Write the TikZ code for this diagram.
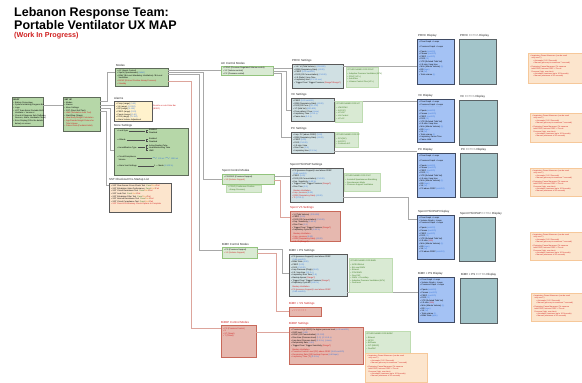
\documentclass[tikz,border=0pt]{standalone}
\usepackage{fontspec}
\setmainfont{Liberation Sans}
\usetikzlibrary{calc}
\definecolor{gfill}{HTML}{B6D7A8}
\definecolor{gdark}{HTML}{5F6B5A}
\definecolor{lgfill}{HTML}{D9EAD3}
\definecolor{lgline}{HTML}{93C47D}
\definecolor{sfill}{HTML}{D0E0E3}
\definecolor{sline}{HTML}{595959}
\definecolor{rfill}{HTML}{E6B8AF}
\definecolor{rline}{HTML}{C8695A}
\definecolor{bfill}{HTML}{A4C2F4}
\definecolor{bline}{HTML}{3F4A63}
\definecolor{tfill}{HTML}{A2C4C9}
\definecolor{tline}{HTML}{5B6366}
\definecolor{pfill}{HTML}{FCE5CD}
\definecolor{pline}{HTML}{F6C89A}
\definecolor{yfill}{HTML}{FFF2CC}
\definecolor{txtblue}{HTML}{3C78D8}
\definecolor{txtred}{HTML}{D02020}
\definecolor{txtgreen}{HTML}{38761D}
\definecolor{txtorange}{HTML}{E69138}
\definecolor{lnc}{HTML}{A8A8A8}
\definecolor{rlnc}{HTML}{DDA59C}
\newcommand{\xbu}{\textbullet\hspace{0.8pt}}
\newcommand{\xblue}[1]{{\color{txtblue}#1}}
\newcommand{\xred}[1]{{\color{txtred}#1}}
\newcommand{\xgr}[1]{{\color{txtgreen}#1}}
\newcommand{\xind}{\hspace*{1.4pt}}
\newcommand{\xpf}{{\color{txtgreen}Pass}/{\color{txtorange}Alert}/{\color{txtred}Fail}}
\begin{document}
\begin{tikzpicture}[x=1pt,y=-1pt,
  bx/.style={draw, anchor=north west, inner sep=0pt, outer sep=0pt},
  greenbox/.style={bx, fill=gfill, draw=gdark, line width=0.7pt},
  lgbox/.style={bx, fill=lgfill, draw=lgline, line width=0.6pt},
  setbox/.style={bx, fill=sfill, draw=sline, line width=0.8pt},
  redbox/.style={bx, fill=rfill, draw=rline, line width=0.7pt},
  disp/.style={bx, fill=bfill, draw=bline, line width=0.7pt},
  extra/.style={bx, fill=tfill, draw=tline, line width=0.7pt},
  pnote/.style={bx, fill=pfill, draw=pline, line width=0.4pt},
  gnote/.style={bx, fill=lgfill, draw=lgline!60, line width=0.3pt},
  ybox/.style={bx, fill=yfill, draw=sline, line width=0.7pt},
  pbox/.style={bx, fill=pfill, draw=sline, line width=0.7pt},
  tx/.style={anchor=north west, inner sep=0pt, align=left, font=\fontsize{2.05}{2.6}\selectfont},
  ntx/.style={anchor=north west, inner sep=0pt, align=left, font=\fontsize{1.9}{2.35}\selectfont},
  lbl/.style={anchor=south west, inner sep=0pt, font=\fontsize{2.9}{3.4}\selectfont, text=black!85},
  rlbl/.style={lbl, text=txtred},
  ln/.style={draw=lnc, line width=0.6pt},
  rln/.style={draw=rlnc, line width=0.8pt},
  mln/.style={draw=black!70, line width=0.25pt}]
\useasboundingbox (0,0) rectangle (582,383);
\fill[white] (0,0) rectangle (582,383);
\clip (0,0) rectangle (582,383);

% ---------- title
\node[anchor=base west, inner sep=0pt, font=\fontsize{12.5}{14}\selectfont\bfseries] (t1) at (14,16.3) {Lebanon Response Team:};
\node[anchor=base west, inner sep=0pt, font=\fontsize{12.5}{14}\selectfont\bfseries] (t2) at (14,29.3) {Portable Ventilator UX MAP};
\node[anchor=base west, inner sep=0pt, font=\fontsize{7.2}{8}\selectfont\bfseries, text=txtred] (t3) at (14,37.8) {(Work In Progress)};

% ---------- boxes
\node[greenbox, minimum width=31pt, minimum height=29pt] (boot) at (12,97) {};
\node[greenbox, minimum width=37pt, minimum height=34pt] (setup) at (63,97) {};
\node[greenbox, minimum width=53pt, minimum height=18pt] (modes) at (115,68) {};
\node[ybox, minimum width=38pt, minimum height=20pt] (alarms) at (114,101) {};
\node[greenbox, minimum width=74pt, minimum height=47pt] (more) at (114,128) {};
\node[pbox, minimum width=62pt, minimum height=29pt] (sst) at (109,183) {};

\node[lgbox, minimum width=52pt, minimum height=9pt] (ac) at (221,66) {};
\node[lgbox, minimum width=52pt, minimum height=10pt] (spontc) at (222,174) {};
\node[lgbox, minimum width=35pt, minimum height=11pt] (bimvc) at (222,247) {};
\node[redbox, minimum width=35pt, minimum height=32pt] (bipapc) at (221,325) {};

\node[setbox, minimum width=51pt, minimum height=24pt] (prvc) at (292,64) {};
\node[setbox, minimum width=43pt, minimum height=23pt] (vc) at (291,98) {};
\node[setbox, minimum width=43pt, minimum height=21pt] (pc) at (291,132) {};
\node[setbox, minimum width=53pt, minimum height=34pt] (psset) at (290,168) {};
\node[redbox, minimum width=50pt, minimum height=30pt] (vsset) at (290,211) {};
\node[setbox, minimum width=58pt, minimum height=42pt] (bimvps) at (289,254) {};
\node[redbox, minimum width=32pt, minimum height=9pt] (bimvvs) at (289,307) {};
\node[redbox, minimum width=74pt, minimum height=37pt] (bipaps) at (289,327) {};

\node[disp, minimum width=37pt, minimum height=45pt] (prvcd) at (417,39) {};
\node[extra, minimum width=37pt, minimum height=45pt] (prvce) at (459,39) {};
\node[disp, minimum width=37pt, minimum height=43pt] (vcd) at (417,99) {};
\node[extra, minimum width=38pt, minimum height=45pt] (vce) at (459,100) {};
\node[disp, minimum width=38pt, minimum height=44pt] (pcd) at (417,153) {};
\node[extra, minimum width=37pt, minimum height=44pt] (pce) at (460,153) {};
\node[disp, minimum width=37pt, minimum height=44pt] (psd) at (417,215) {};
\node[extra, minimum width=36pt, minimum height=44pt] (pse) at (459,217) {};
\node[disp, minimum width=36pt, minimum height=45pt] (bimvd) at (418,277) {};
\node[extra, minimum width=37pt, minimum height=45pt] (bimve) at (460,278) {};

% ---------- connectors
\draw[ln] (boot.east|-0,105) -- (setup.west|-0,105);
\draw[ln] (setup.east|-0,101) -- (107,101) -- (107,72) -- (modes.west|-0,72);
\draw[ln] (setup.east|-0,105) -- (alarms.west|-0,105);
\draw[ln] (setup.east|-0,108) -- (110,108) -- (110,150) -- (more.west|-0,150);
\draw[ln] (setup.east|-0,111) -- (106,111) -- (106,185) -- (sst.west|-0,185);

\draw[ln] (modes.east|-0,70.5) -- (ac.west|-0,70.5);
\draw[ln] (modes.east|-0,72.5) -- (203,72.5) -- (203,179) -- (spontc.west|-0,179);
\draw[ln] (modes.east|-0,74.5) -- (199,74.5) -- (199,250) -- (bimvc.west|-0,250);
\draw[rln] (modes.east|-0,81) -- (191,81) -- (191,328) -- (bipapc.west|-0,328);

\draw[ln] (ac.east|-0,68.5) -- (prvc.west|-0,68.5);
\draw[ln] (ac.east|-0,71) -- (286,71) -- (286,110) -- (vc.west|-0,110);
\draw[ln] (ac.east|-0,73) -- (281,73) -- (281,137) -- (pc.west|-0,137);

\draw[ln] (spontc.east|-0,176.5) -- (psset.west|-0,176.5);
\draw[rln] (spontc.east|-0,180) -- (280,180) -- (280,217) -- (vsset.west|-0,217);
\draw[ln] (bimvc.east|-0,249.5) -- (282,249.5) -- (282,273) -- (bimvps.west|-0,273);
\draw[rln] (bimvc.east|-0,253.5) -- (276,253.5) -- (276,311) -- (bimvvs.west|-0,311);
\draw[rln] (bipapc.east|-0,332) -- (bipaps.west|-0,332);

\draw[ln] (prvc.east|-0,66) -- (prvcd.west|-0,66);
\draw[ln] (vc.east|-0,101) -- (vcd.west|-0,101);
\draw[ln] (pc.east|-0,151.5) -- (pcd.west|-0,151.5);
\draw[ln] (psset.east|-0,197) -- (408,197) -- (408,219) -- (psd.west|-0,219);
\draw[ln] (bimvps.east|-0,292) -- (bimvd.west|-0,292);

% ---------- notes
\node[gnote, minimum width=32pt, minimum height=20pt] (prvcn) at (346,67) {};
\node[gnote, minimum width=27pt, minimum height=21pt] (vcn) at (335,101) {};
\node[gnote, minimum width=23pt, minimum height=15pt] (pcn) at (335,132) {};
\node[gnote, minimum width=35pt, minimum height=7pt] (spontn) at (226,185) {};
\node[gnote, minimum width=36pt, minimum height=18pt] (psn) at (344,173) {};
\node[gnote, minimum width=43pt, minimum height=34pt] (bimvn) at (349,258) {};
\node[gnote, minimum width=45pt, minimum height=22pt] (bipapn) at (365,331) {};
\node[pnote, minimum width=62pt, minimum height=29pt] (bipapp) at (365,353) {};
\node[pnote, minimum width=60pt, minimum height=30pt] (prvcp) at (528,53) {};
\node[pnote, minimum width=60pt, minimum height=29pt] (vcp) at (530,113) {};
\node[pnote, minimum width=60pt, minimum height=28pt] (pcp) at (530,168) {};
\node[pnote, minimum width=60pt, minimum height=28pt] (psp) at (530,232) {};
\node[pnote, minimum width=60pt, minimum height=28pt] (bimvp) at (531,293) {};

% ---------- labels
\node[lbl] (modesl) at (116,67) {Modes};
\node[lbl] (alarmsl) at (114,100) {Alarms};
\node[lbl] (morel) at (114,127) {More Settings};
\node[lbl] (sstl) at (109,181.5) {SST Checkout Pre-Startup List};
\node[lbl] (acl) at (221,64.5) {AC Control Modes};
\node[lbl] (spontcl) at (222,172.5) {Spont Control Modes};
\node[lbl] (bimvcl) at (222,245.5) {BiMV Control Modes};
\node[rlbl] (bipapcl) at (221,323.5) {BiPAP Control Modes};
\node[lbl] (prvcl) at (292,62.5) {PRVC Settings};
\node[lbl] (vcl) at (291,96.5) {VC Settings};
\node[lbl] (pcl) at (291,130.5) {PC Settings};
\node[lbl] (pssetl) at (290,166.5) {Spont PS/CPAP Settings};
\node[rlbl] (vssetl) at (290,209.5) {Spont VS Settings};
\node[lbl] (bimvpsl) at (289,252.5) {BiMV + PS Settings};
\node[rlbl] (bimvvsl) at (289,305.5) {BiMV + VS Settings};
\node[rlbl] (bipapsl) at (289,325.5) {BiPAP Settings};
\node[lbl] (prvcdl) at (418,37.5) {PRVC Display};
\node[lbl] (prvcel) at (460,37.5) {PRVC {\color{black!45}EXTRA} Display};
\node[lbl] (vcdl) at (418,97.5) {VC Display};
\node[lbl] (vcel) at (460,98.5) {VC {\color{black!45}EXTRA} Display};
\node[lbl] (pcdl) at (418,151.5) {PC Display};
\node[lbl] (pcel) at (461,151.5) {PC {\color{black!45}EXTRA} Display};
\node[lbl] (psdl) at (418,213.5) {Spont PS/CPAP Display};
\node[lbl] (psel) at (460,215.5) {Spont PS/CPAP {\color{black!45}EXTRA} Display};
\node[lbl] (bimvdl) at (418,275.5) {BiMV + PS Display};
\node[lbl] (bimvel) at (461,276.5) {BiMV + PS {\color{black!45}EXTRA} Display};

% ---------- texts
\node[tx] (boott) at ([shift={(1.5,1.5)}]boot.north west) {\textbf{BOOT}\\[0.5pt]
\xbu Battery Percentage\\
\xbu System Initializing Progress Bar\\
\xbu Logo\\
\xbu LRT Team Beirut Portable MVH\\
\xind Ventilator + Version \#\\
\xbu Check \& Diagnose Sub (Software,\\
\xind Sensors, Alarm, Hardware Check)\\
\xbu Error Display (Fill in the details\\
\xind below) on screen};

\node[tx] (setupt) at ([shift={(1.5,1.5)}]setup.north west) {\textbf{SET UP}\\[0.5pt]
\xbu Modes\\
\xbu Alarms\\
\xbu More Settings\\
\xbu SST (Short Self Test)\\
\xred{\xbu HME (Exhalation Auto Test)}\\
\xbu Start/Stop (Stage)\\
\xred{\xbu Ideal Body Weight Calculation}\\
\xred{\xbu Age/Gender/Height Pickers for}\\
\xred{\xind Tidal Volume}\\
\xred{\xbu Patient Data (Pediatric/Adult)}};

\node[tx] (modest) at ([shift={(2,1.5)}]modes.north west) {\xbu AC (Assist Control)\\
\xbu Spont (Spontaneous) \xblue{(Adult)}\\
\xbu BiMV (Bi-Level Mandatory Ventilation) / Bi-Level\\
\xind Ventilation\\
\xred{\xbu BiPAP (Bi-level Positive Airway Pressure)}\\
\xred{\xbu Standby}};

\node[tx] (alarmst) at ([shift={(2,2)}]alarms.north west) {\xbu Pinsp (range) \xblue{(0-60)}\\
\xbu Vti (range) \xblue{(0-2000)}\\
\xbu RR (range) \xblue{(0-100)}\\
\xbu PEEP (range) \xblue{(0-20)}\\
\xbu Ppeak (range) \xblue{(0-60)}\\
\xbu FiO2 (range) \xblue{(21-100)}\\
\xbu Alarm Volume Adjustment};
\node[tx, text=txtred] (alarmsn) at (153,105) {Results on sub-State Bar\\(BSEC)};

% More settings rows
\node[tx, anchor=west] (ms1) at (117,131) {\xbu Lock Sync};
\node[tx, anchor=west] (ms2) at (117,140) {\xbu Altitude};
\node[tx, anchor=west] (ms3) at (117,147.5) {\xbu Humidification Type};
\node[tx, anchor=west] (ms4) at (117,158.5) {\xbu Circuit/Compliance\\\xind Volume};
\node[tx, anchor=west] (ms5) at (117,166) {\xbu Alarm Vent Settings};
\node[tx, anchor=west] (mo1) at (149,131) {Enabled\\Disabled};
\node[tx, anchor=west] (mo2) at (149,140) {Enabled\\Disabled};
\node[tx, anchor=west] (mo3) at (149,148) {Active/Heating Tube\\Heat/Moisturizing Tube\\HME};
\node[tx, anchor=west] (mo4) at (152,158.5) {\xblue{$\sim$ 100 ml $\sim$ 1000 ml}};
\node[tx, anchor=west] (mo5) at (154,166) {1 --- Mode \xblue{(1-100 \%)}};
\draw[mln] ([xshift=1pt]ms1.east) -- (145,131) (146,130) -- (146,132.5) (146,130) -- (148,130) (146,132.5) -- (148,132.5);
\draw[mln] ([xshift=1pt]ms2.east) -- (145,140) (146,139) -- (146,141.5) (146,139) -- (148,139) (146,141.5) -- (148,141.5);
\draw[mln] ([xshift=1pt]ms3.east) -- (145,147.5) (146,145.5) -- (146,150.5) (146,145.5) -- (148,145.5) (146,148) -- (148,148) (146,150.5) -- (148,150.5);
\draw[mln] ([xshift=1pt]ms4.east) -- (mo4.west);
\draw[mln] ([xshift=1pt]ms5.east) -- (mo5.west);

\node[tx] (sstt) at ([shift={(2,2)}]sst.north west) {\xbu SST Flow Sensor Cross Check Test \ \xpf\\
\xbu SST Exhalation Valve Performance \ \xpf\\
\xbu SST Circuit Resistance Test \ \xpf\\
\xbu SST Leak Test \ \xpf\\
\xbu SST Exhalation Filter Test \ \xpf\\
\xbu SST Internal Resistance Test \ \xpf\\
\xbu SST Circuit Compliance Test \ \xpf\\
\xred{\xbu SST Pass All Preliminary Check Options to Complete}};

\node[tx] (act) at ([shift={(2,1.2)}]ac.north west) {\xbu PRVC (Pressure Regulated Volume control)\\
\xbu VC (Volume control)\\
\xbu PC (Pressure control)};
\node[tx] (spontct) at ([shift={(2,1.8)}]spontc.north west) {\xbu PS/CPAP (Pressure Support)\\
\xred{\xbu VS (Volume Support)}};
\node[tx] (spontnt) at ([shift={(2,1.2)}]spontn.north west) {\xgr{\xbu CPAP (Continuous Positive}\\\xgr{\xind Airway Pressure)}};
\node[tx] (bimvct) at ([shift={(2,2.2)}]bimvc.north west) {\xbu PS (Pressure Support)\\
\xred{\xbu VS (Volume Support)}};
\node[tx] (bipapct) at ([shift={(2,2.5)}]bipapc.north west) {\xred{\xbu PS (Pressure Control)}\\
\xred{\xbu S}\\
\xred{\xbu ST (Spont)}\\
\xred{\xbu T (Timed)}};

\node[tx] (prvct) at ([shift={(2,2)}]prvc.north west) {\xbu Vti / Vt (Tidal Volume) \ \xblue{(200-800)}\\
\xbu RRB (Respiratory Rate) \xblue{(4-100)}\\
\xbu PEEP \xblue{(0-20 cmH2O)}\\
\xbu FiO2 (O2 Concentration) \xblue{(21-100)}\\
\xbu I:E (Ratio) / Insp Time\\
\xbu Inspiratory time \xblue{(0.3-3.0 sec)}\\
\xbu Trigger Flow / Trigger Pressure \xred{(Range?/Range?)}};
\node[tx] (prvcnt) at ([shift={(1.5,2)}]prvcn.north west) {\xgr{OTHER NAMES FOR PRVC}\\[1.5pt]
\xgr{\xbu Adaptive Pressure Ventilation (APV)}\\
\xgr{\xbu PRVC (VC+)}\\
\xgr{\xbu AutoFlow}\\
\xgr{\xbu Volume Control Plus (VC+)}};

\node[tx] (vct) at ([shift={(2,2)}]vc.north west) {\xbu PEEP \xblue{(0-20 cmH2O)}\\
\xbu RRB (Respiratory Rate) \xblue{(4-100)}\\
\xbu FiO2 (O2 Conc.) \xblue{(21-100)}\\
\xbu VT (tidal Vol) \xblue{(200-800)}\\
\xbu Flow pattern / Flow \xblue{(L/min)}\\
\xbu Inspiratory Time \xblue{(0.3-3 s)}\\
\xbu Pause time \xblue{(0-2 s)}};
\node[tx] (vcnt) at ([shift={(1.5,2)}]vcn.north west) {\xgr{OTHER NAMES FOR VC}\\[1.5pt]
\xgr{\xbu VMV/CMV}\\
\xgr{\xbu A/C(VC)}\\
\xgr{\xbu VC-A/C}\\
\xgr{\xbu Vol Control}\\
\xgr{\xbu VC-AC}};

\node[tx] (pct) at ([shift={(2,2)}]pc.north west) {\xbu Insp. PC (above PEEP) \xblue{(5-60)}\\
\xbu RRB (Respiratory Rate) \xblue{(4-100)}\\
\xbu PEEP \xblue{(0-20)}\\
\xbu FiO2 \xblue{(21-100)}\\
\xbu I:E ratio / time\\
\xbu Rise Time \xblue{(1-5)}\\
\xbu Inspiratory time \xblue{(0.3-3 s)}};
\node[tx] (pcnt) at ([shift={(1.5,2)}]pcn.north west) {\xgr{OTHER NAMES FOR PC}\\[1.5pt]
\xgr{\xbu PCV(AC)}\\
\xgr{\xbu A/C(PC)}\\
\xgr{\xbu Pressure A/C}};

\node[tx] (pssett) at ([shift={(2,2)}]psset.north west) {\xbu PS (pressure Support) Level above PEEP\\
\xind\xblue{(0-60 cmH2O)}\\
\xbu PEEP \xblue{(0-20)}\\
\xbu FiO2 (O2 Concentration) \xblue{(21-100)}\\
\xbu Exp. Sensitivity \xblue{(1-80 \%)}\\
\xbu Trigger Flow / Trigger Pressure \xred{(Range?)}\\
\xbu Rise Time \xblue{(1-5)}\\[1.2pt]
\xind\xred{Backup Ventilation}\\
\xred{\xbu Insp. pressure} \xblue{(5-60)}\\
\xred{\xbu RRB (Respiratory Rate)} \xblue{(4-100)}\\
\xred{\xbu Ti} \xblue{(0.3-3 s)}};
\node[tx] (psnt) at ([shift={(1.5,2)}]psn.north west) {\xgr{OTHER NAMES FOR PS/C}\\[1.5pt]
\xgr{\xbu Assisted Spontaneous Breathing}\\
\xgr{\xbu Spontaneous Mode}\\
\xgr{\xbu Pressure Support Ventilation}};

\node[tx] (vssett) at ([shift={(2,2.5)}]vsset.north west) {\xbu Vt (Tidal Volume) \ \xblue{(200-800)}\\
\xbu PEEP \xblue{(0-20)}\\
\xbu FiO2 (O2 Concentration) \xblue{(21-100)}\\
\xbu Exp. Sensitivity \xblue{(1-80 \%)}\\
\xbu Rise Time \xblue{(1-5)}\\
\xbu Trigger Flow / Trigger Pressure \xred{(Range?)}\\
\xbu Inspiratory Cycle off \xblue{(1-80 \%)}\\[1.2pt]
\xind\xred{Backup Ventilation}\\
\xred{\xbu Insp. pressure} \xblue{(5-60)}\\
\xred{\xbu RRB (Respiratory Rate)} \xblue{(4-100)}\\
\xred{\xbu I:E / Ti} \xred{(Range?)}};

\node[tx] (bimvpst) at ([shift={(2,2)}]bimvps.north west) {\xbu PS (pressure Support) Level above PEEP\\
\xind\xblue{(0-60 cmH2O)}\\
\xbu BiMV Rate \xblue{(4-60)}\\
\xbu PEEP \xblue{(0-20)}\\
\xbu FiO2 \xblue{(21-100)}\\
\xbu Insp Pressure (Phigh) \xblue{(5-60)}\\
\xbu I:E / Insp time \xblue{(0.3-3 s)}\\
\xbu Inspiratory Rise Time \xblue{(1-5)}\\
\xbu Backup Apnea \xred{(Range?)}\\
\xbu Trigger Flow / Trigger Pressure \xred{(Range?)}\\
\xbu Expiratory Cycle off \xblue{(1-80 \%)}\\[1.2pt]
\xind\xred{Backup Ventilation}\\
\xred{\xbu PS (pressure Support) Level above PEEP}\\
\xind\xblue{(0-60 cmH2O)}};
\node[tx] (bimvnt) at ([shift={(1.5,2)}]bimvn.north west) {\xgr{OTHER NAMES FOR BiMV}\\[1.5pt]
\xgr{\xbu APRV/BiVent}\\
\xgr{\xbu Bi-Level SIMV}\\
\xgr{\xbu BiLevel}\\
\xgr{\xbu PSV/SIMV}\\
\xgr{\xbu Duo PAP}\\
\xgr{\xbu SIMV + PressSup}\\
\xgr{\xbu Adaptive Pressure Ventilation (APV)}\\
\xgr{\xbu DuoLevel}};

\node[tx] (bimvvst) at ([shift={(3,3.2)}]bimvvs.north west) {\xred{\xbu ? ? ? ? ? ? ?}};

\node[tx] (bipapst) at ([shift={(2,2)}]bipaps.north west) {\xbu Pressure High (IPAP) the higher pressure level \xblue{(4-30 cmH2O)}\\
\xbu IPAP level \xblue{(4-30)}\\
\xbu EPAP (O2 Concentration) \xblue{(21-100)}\\
\xbu Rise time (Pressure level) \xblue{(1-5)} \ \xblue{(0.1-0.9 s)}\\
\xbu Insp time (Pressure level) \xblue{(0.3-3 s)} \ \xblue{(L/min)}\\
\xbu Respiratory Rate \xblue{(4-60)}\\
\xbu Trigger Flow / Trigger Sensitivity \xred{(Range?)}\\[1.2pt]
\xind\xred{Backup Ventilation}\\
\xred{\xbu Pressure Control Level (PC) above PEEP} \xblue{(5-60 cmH2O)}\\
\xred{\xbu Respiratory Rate (RR) backup if apnea} \xblue{(4-60 bpm)}\\
\xred{\xbu Inspiratory Time (Ti)} \xblue{(0.3-3 s)}};
\node[tx] (bipapnt) at ([shift={(1.5,2)}]bipapn.north west) {\xgr{OTHER NAMES FOR BiPAP}\\[1.5pt]
\xgr{\xbu BiLevel}\\
\xgr{\xbu NPPV}\\
\xgr{\xbu BiPhasic}\\
\xgr{\xbu S/T (BiPAP)}\\
\xgr{\xbu DuoPAP}};

% display texts
\node[tx] (prvcdt) at ([shift={(2,2)}]prvcd.north west) {\xbu Flow Graph + Loops\\[1.8pt]
\xbu Pressure Graph + Loops\\[2.5pt]
\xbu Ppeak \xblue{(cmH2O)}\\
\xbu Pmean \xblue{(cmH2O)}\\
\xbu PEEP \xblue{(cmH2O)}\\
\xbu FiO2 \xblue{(\%)}\\
\xbu VTE (Exhaled Tidal Vol)\\
\xbu I:E ratio / Insp time\\
\xbu MVe (Minute Volume) \xblue{(L)}\\
\xbu RR \xblue{(bpm)}\\
\xbu Vti \xblue{(ml)}\\
\xbu Total volume \xblue{(L)}};
\node[tx] (vcdt) at ([shift={(2,2)}]vcd.north west) {\xbu Flow Graph + Loops\\
\xbu Pressure Graph + Loops\\
{\color{white!60!bfill!50!txtblue}\xbu Volume Graph + Loops}\\[1.5pt]
\xbu Ppeak \xblue{(cmH2O)}\\
\xbu Pmean \xblue{(cmH2O)}\\
\xbu PEEP \xblue{(cmH2O)}\\
\xbu FiO2 \xblue{(\%)}\\
\xbu VTE (Exhaled Tidal Vol)\\
\xbu I:E ratio / Insp time\\
\xbu MVe (Minute Volume) \xblue{(L)}\\
\xbu RR \xblue{(bpm)}\\
\xbu Vti \xblue{(ml)}\\
\xbu Total volume \xblue{(L)}\\
\xbu Inspiratory Pause Time\\
\xbu Pause Hold};
\node[tx] (pcdt) at ([shift={(2,2)}]pcd.north west) {\xbu Flow Graph + Loops\\[1.8pt]
\xbu Pressure Graph + Loops\\[2.5pt]
\xbu Ppeak \xblue{(cmH2O)}\\
\xbu Pmean \xblue{(cmH2O)}\\
\xbu PEEP \xblue{(cmH2O)}\\
\xbu FiO2 \xblue{(\%)}\\
\xbu VTE (Exhaled Tidal Vol)\\
\xbu I:E ratio / Insp time\\
\xbu MVe (Minute Volume) \xblue{(L)}\\
\xbu RR \xblue{(bpm)}\\
\xbu Vti \xblue{(ml)}\\
\xbu PS above PEEP \xblue{(cmH2O)}};
\node[tx] (psdt) at ([shift={(2,2)}]psd.north west) {\xbu Flow Graph + Loops\\
\xbu Volume Graph + Loops\\
\xbu Pressure Graph + Loops\\[2.5pt]
\xbu Ppeak \xblue{(cmH2O)}\\
\xbu Pmean \xblue{(cmH2O)}\\
\xbu PEEP \xblue{(cmH2O)}\\
\xbu FiO2 \xblue{(\%)}\\
\xbu VTE (Exhaled Tidal Vol)\\
\xbu I:E ratio \xred{(N/A)}\\
\xbu MVe (Minute Volume) \xblue{(L)}\\
\xbu RR \xblue{(bpm)}\\
\xbu Vti \xblue{(ml)}\\
\xbu PS above PEEP \xblue{(cmH2O)}};
\node[tx] (bimvdt) at ([shift={(2,2)}]bimvd.north west) {\xbu Flow Graph + Loops\\
\xbu Volume Graph + Loops\\
\xbu Pressure Graph + Loops\\[2.5pt]
\xbu Ppeak \xblue{(cmH2O)}\\
\xbu Pmean \xblue{(cmH2O)}\\
\xbu PEEP \xblue{(cmH2O)}\\
\xbu FiO2 \xblue{(\%)}\\
\xbu VTE (Exhaled Tidal Vol)\\
\xbu I:E ratio \xred{(N/A)}\\
\xbu MVe (Minute Volume) \xblue{(L)}\\
\xbu RR \xblue{(bpm)}\\
\xbu Vti \xblue{(ml)}\\
\xbu Total volume \xblue{(L)}\\
\xbu BiMV Rate \xblue{(bpm)}};

% pause notes
\newcommand{\xpause}{\xred{\xbu Inspiratory Pause Maneuver (can be used}\\
\xred{\xind only once?)}\\
\xred{\hspace*{3pt}\xbu Automatic (0.5-2 Seconds)}\\
\xred{\hspace*{3pt}\xbu Manual (press up to maximum 7 seconds)}\\[1.6pt]
\xred{\xbu Expiratory Pause Maneuver (To measure}\\
\xred{\xind total PEEP, Intrinsic PEEP + Circuit}\\
\xred{\xind Pressure (high, over time)}\\
\xred{\hspace*{3pt}\xbu Automatic (maximum up to 10 Seconds)}\\
\xred{\hspace*{3pt}\xbu Manual (maximum of 15 seconds)}}
\node[ntx] (prvcpt) at ([shift={(2,2)}]prvcp.north west) {\xpause};
\node[ntx] (vcpt) at ([shift={(2,2)}]vcp.north west) {\xpause};
\node[ntx] (pcpt) at ([shift={(2,2)}]pcp.north west) {\xpause};
\node[ntx] (pspt) at ([shift={(2,2)}]psp.north west) {\xpause};
\node[ntx] (bimvpt) at ([shift={(2,2)}]bimvp.north west) {\xpause};
\node[ntx] (bipappt) at ([shift={(2,2)}]bipapp.north west) {\xpause};
\end{tikzpicture}
\end{document}
